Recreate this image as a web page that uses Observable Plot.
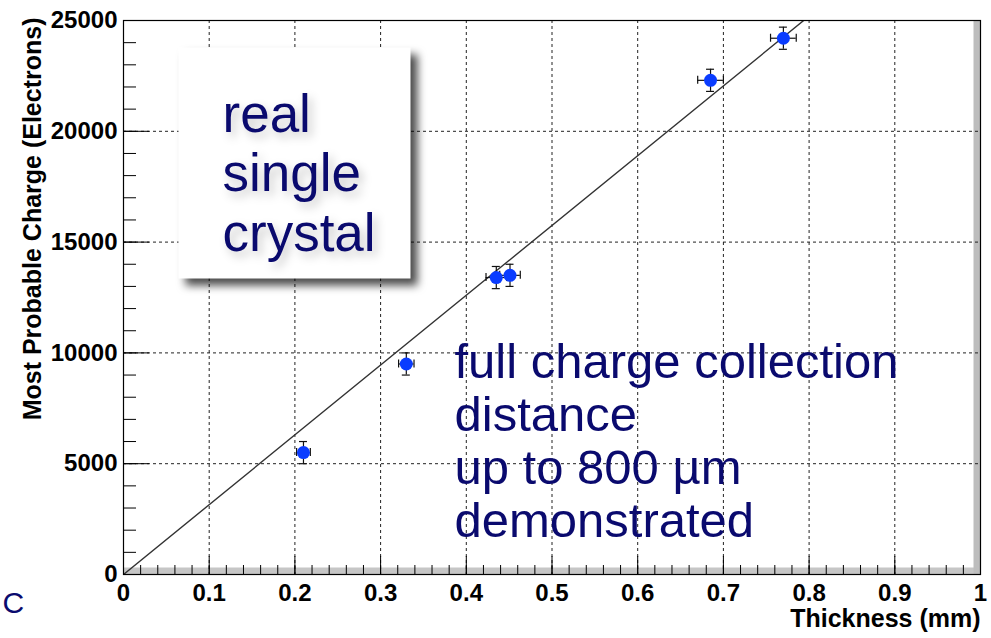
<!DOCTYPE html>
<html>
<head>
<meta charset="utf-8">
<script src="https://cdn.jsdelivr.net/npm/d3@7"></script>
<script src="https://cdn.jsdelivr.net/npm/@observablehq/plot@0.6"></script>
<style>
  html, body { margin: 0; padding: 0; background: white; }
  #chart { width: 991px; height: 638px; overflow: hidden; }
</style>
</head>
<body>
<div id="chart"></div>
<script>
// Measured samples: thickness (mm) vs most probable charge (electrons)
const thickness = [0.21, 0.33, 0.435, 0.451, 0.685, 0.770];
const charge    = [5500, 9500, 13400, 13500, 22300, 24200];
const thicknessErr = [0.008, 0.009, 0.012, 0.012, 0.015, 0.015];
const chargeErr    = [500, 500, 500, 500, 500, 500];

// Linear fit through the origin (electrons per mm)
const fitSlope = 31500;
const fitRange = [0, 1];

// Axis ticks and labels
const xTicks = [0, 0.1, 0.2, 0.3, 0.4, 0.5, 0.6, 0.7, 0.8, 0.9, 1];
const xTickLabels = ["0", "0.1", "0.2", "0.3", "0.4", "0.5", "0.6", "0.7", "0.8", "0.9", "1"];
const xGrid = [0.1, 0.2, 0.3, 0.4, 0.5, 0.6, 0.7, 0.8, 0.9];
const yTicks = [0, 5000, 10000, 15000, 20000, 25000];
const yTickLabels = ["0", "5000", "10000", "15000", "20000", "25000"];
const yGrid = [5000, 10000, 15000, 20000];
const xMinor = d3.range(0, 1.0001, 0.02);
const yMinor = d3.range(0, 25001, 1000);

const xTitle = "Thickness (mm)";
const yTitle = "Most Probable Charge (Electrons)";
const boxLines = ["real", "single", "crystal"];
const noteLines = ["full charge collection", "distance", "up to 800 µm", "demonstrated"];
const cornerLetter = "C";

const W = 991, H = 638;
const mL = 123, mR = 11, mT = 20, mB = 64;
const plotW = W - mL - mR, plotH = H - mT - mB;

const points = thickness.map((x, i) => ({
  x, y: charge[i], ex: thicknessErr[i], ey: chargeErr[i]
}));

const navy = "#0a0a6e";
const blue = "#0a3cff";

const chart = Plot.plot({
  width: W, height: H,
  marginLeft: mL, marginRight: mR, marginTop: mT, marginBottom: mB,
  x: {domain: [0, 1], label: null, axis: null},
  y: {domain: [0, 25000], label: null, axis: null},
  style: {
    fontFamily: "'Liberation Sans', Arial, Helvetica, sans-serif",
    fontSize: "24px",
    fontWeight: "bold",
    color: "black",
    background: "white",
    overflow: "visible"
  },
  marks: [
    // bevel shading along the bottom and right edge of the frame
    Plot.frame({fill: "#c6c6c6", stroke: null, insetTop: plotH - 7}),
    Plot.frame({fill: "#bdbdbd", stroke: null, insetLeft: plotW - 7}),

    // dashed grid
    Plot.ruleX(xGrid, {stroke: "#222", strokeWidth: 1, strokeDasharray: "3,3"}),
    Plot.ruleY(yGrid, {stroke: "#222", strokeWidth: 1, strokeDasharray: "3,3"}),

    // inward ticks
    Plot.ruleX(xMinor, {stroke: "black", strokeWidth: 1, insetTop: plotH - 9}),
    Plot.ruleX(xTicks, {stroke: "black", strokeWidth: 1, insetTop: plotH - 18}),
    Plot.ruleY(yMinor, {stroke: "black", strokeWidth: 1, insetRight: plotW - 13}),
    Plot.ruleY(yTicks, {stroke: "black", strokeWidth: 1, insetRight: plotW - 26}),

    // tick labels
    Plot.text(xTicks, {x: d => d, text: (d, i) => xTickLabels[i], frameAnchor: "bottom",
      lineAnchor: "top", dy: 9, fontSize: 24, fontWeight: "bold", fill: "black"}),
    Plot.text(yTicks, {y: d => d, text: (d, i) => yTickLabels[i], frameAnchor: "left",
      textAnchor: "end", dx: -6, fontSize: 24, fontWeight: "bold", fill: "black"}),

    // axis titles
    Plot.text([xTitle], {frameAnchor: "bottom-right", textAnchor: "end", dy: 52, fontSize: 25, fontWeight: "bold"}),
    Plot.text([yTitle], {frameAnchor: "top-left", textAnchor: "end", rotate: -90, dx: -100, dy: -3, fontSize: 25, fontWeight: "bold"}),

    // annotation box
    Plot.frame({fill: "white", stroke: null, insetLeft: 55, insetTop: 27, insetRight: 570, insetBottom: 296}),

    // fit line
    Plot.line(fitRange, {x: d => d, y: d => fitSlope * d, stroke: "#333", strokeWidth: 1.4, clip: true}),

    // error bars with end caps
    Plot.ruleX(points, {x: "x", y1: d => d.y - d.ey, y2: d => d.y + d.ey, stroke: "#111", strokeWidth: 1.2}),
    Plot.ruleY(points, {y: "y", x1: d => d.x - d.ex, x2: d => d.x + d.ex, stroke: "#111", strokeWidth: 1.2}),
    Plot.ruleY(points, {y: d => d.y - d.ey, x1: "x", x2: "x", insetLeft: -4, insetRight: -4, stroke: "#111", strokeWidth: 1.2}),
    Plot.ruleY(points, {y: d => d.y + d.ey, x1: "x", x2: "x", insetLeft: -4, insetRight: -4, stroke: "#111", strokeWidth: 1.2}),
    Plot.ruleX(points, {x: d => d.x - d.ex, y1: "y", y2: "y", insetTop: -4, insetBottom: -4, stroke: "#111", strokeWidth: 1.2}),
    Plot.ruleX(points, {x: d => d.x + d.ex, y1: "y", y2: "y", insetTop: -4, insetBottom: -4, stroke: "#111", strokeWidth: 1.2}),

    // markers
    Plot.dot(points, {x: "x", y: "y", r: 6.5, fill: blue, stroke: null}),

    // annotations
    Plot.text([boxLines.join("\n")], {
      frameAnchor: "top-left", textAnchor: "start", lineAnchor: "top",
      dx: 99, dy: 69, fontSize: 53, fontWeight: "normal", lineHeight: 1.123, fill: navy
    }),
    Plot.text([noteLines.join("\n")], {
      frameAnchor: "top-left", textAnchor: "start", lineAnchor: "top",
      dx: 331, dy: 320, fontSize: 49, fontWeight: "normal", lineHeight: 1.082, fill: navy
    }),
    Plot.text([cornerLetter], {
      frameAnchor: "bottom-left", textAnchor: "start",
      dx: -121, dy: 38, fontSize: 30, fontWeight: "normal", fill: navy
    }),

    // outer frame
    Plot.frame({stroke: "black", strokeWidth: 1.2})
  ]
});

document.getElementById("chart").appendChild(chart);

// soft drop shadows on the annotation box and its lettering
chart.querySelectorAll('[aria-label="frame"]').forEach(el => {
  const rect = el.tagName.toLowerCase() === "rect" ? el : el.querySelector("rect");
  if (!rect) return;
  const fill = rect.getAttribute("fill") || el.getAttribute("fill");
  if (fill === "white") rect.style.filter = "drop-shadow(7px 7px 4px rgba(0,0,0,0.7))";
});
chart.querySelectorAll("text").forEach(t => {
  if (t.textContent.startsWith("real")) t.style.filter = "drop-shadow(4px 5px 5px rgba(0,0,0,0.22))";
});
</script>
</body>
</html>
